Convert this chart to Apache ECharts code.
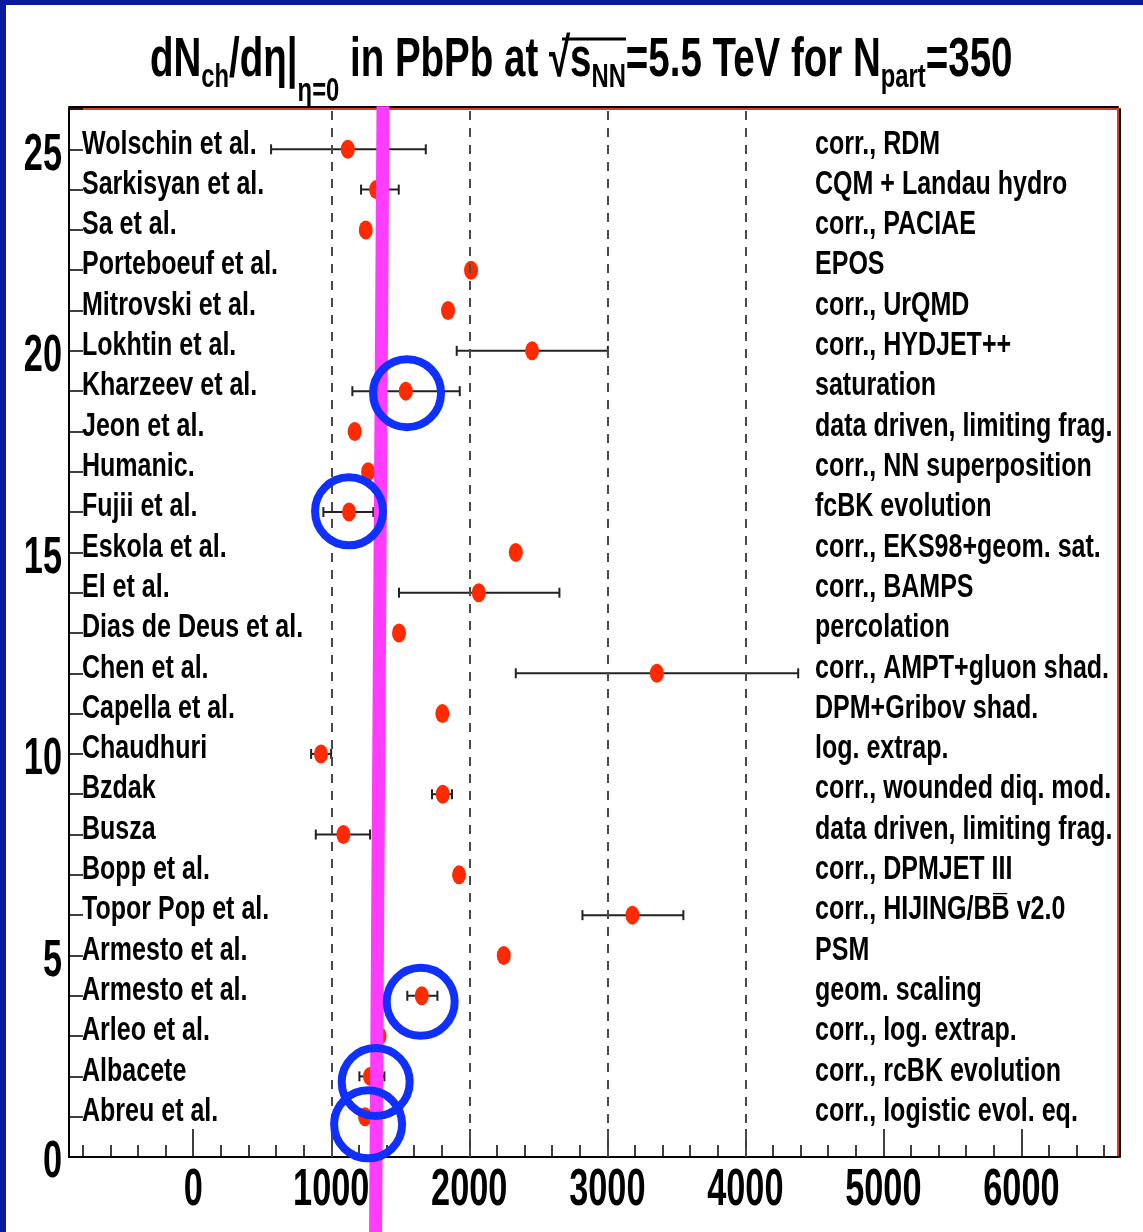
<!DOCTYPE html>
<html>
<head>
<meta charset="utf-8">
<title>dNch/deta predictions PbPb 5.5 TeV</title>
<script src="https://cdn.jsdelivr.net/npm/echarts@6/dist/echarts.min.js"></script>
<style>
  html, body { margin: 0; padding: 0; background: #ffffff; }
  #chart { width: 1143px; height: 1232px; }
</style>
</head>
<body>
<div id="chart"></div>
<script>
// Row index on the y axis (1 = bottom entry)
const rows = [1, 2, 3, 4, 5, 6, 7, 8, 9, 10, 11, 12, 13, 14, 15, 16, 17, 18, 19, 20, 21, 22, 23, 24, 25];

const modelAuthors = [
  'Abreu et al.', 'Albacete', 'Arleo et al.', 'Armesto et al.', 'Armesto et al.',
  'Topor Pop et al.', 'Bopp et al.', 'Busza', 'Bzdak', 'Chaudhuri',
  'Capella et al.', 'Chen et al.', 'Dias de Deus et al.', 'El et al.', 'Eskola et al.',
  'Fujii et al.', 'Humanic.', 'Jeon et al.', 'Kharzeev et al.', 'Lokhtin et al.',
  'Mitrovski et al.', 'Porteboeuf et al.', 'Sa et al.', 'Sarkisyan et al.', 'Wolschin et al.'
];

const modelTypes = [
  'corr., logistic evol. eq.', 'corr., rcBK evolution', 'corr., log. extrap.', 'geom. scaling', 'PSM',
  'corr., HIJING/BB\u0305 v2.0', 'corr., DPMJET III', 'data driven, limiting frag.', 'corr., wounded diq. mod.', 'log. extrap.',
  'DPM+Gribov shad.', 'corr., AMPT+gluon shad.', 'percolation', 'corr., BAMPS', 'corr., EKS98+geom. sat.',
  'fcBK evolution', 'corr., NN superposition', 'data driven, limiting frag.', 'saturation', 'corr., HYDJET++',
  'corr., UrQMD', 'EPOS', 'corr., PACIAE', 'CQM + Landau hydro', 'corr., RDM'
];

// Predicted dNch/deta at eta = 0
const dNdEta = [1245, 1281, 1350, 1656, 2250, 3182, 1926, 1088, 1808, 926,
                1805, 3359, 1491, 2069, 2337, 1129, 1267, 1170, 1540, 2455,
                1846, 2013, 1250, 1325, 1120];

// Lower / upper ends of the quoted ranges (null = no range given)
const rangeLow  = [null, 1204, null, 1551, null, 2820, null, 888, 1730, 854,
                   null, 2337, null, 1491, null, 943, null, null, 1153, 1909,
                   null, null, null, 1216, 564];
const rangeHigh = [null, 1385, null, 1769, null, 3551, null, 1281, 1875, 999,
                   null, 4383, null, 2653, null, 1305, null, null, 1931, 3004,
                   null, null, null, 1489, 1685];

// Vertical reference band drawn across the whole panel
const referenceLine = [[1375, 26.07], [1321, -1.9]];

// Highlighted predictions
const highlighted = [[1549, 18.95], [1129, 16.02], [1648, 3.85], [1322, 1.86], [1267, 0.81]];

const dashedGridValues = [1000, 2000, 3000, 4000];
const xMajorTicks = [0, 1000, 2000, 3000, 4000, 5000, 6000];
const xMinorTicks = [-800, -600, -400, -200, 200, 400, 600, 800, 1200, 1400, 1600, 1800,
                     2200, 2400, 2600, 2800, 3200, 3400, 3600, 3800, 4200, 4400, 4600, 4800,
                     5200, 5400, 5600, 5800, 6200, 6400, 6600];
const yTickLabels = [0, 5, 10, 15, 20, 25];

const FONT = "'Liberation Sans', Arial, Helvetica, sans-serif";
const LABEL_SQUEEZE = 0.747;   // condensed Helvetica look for the row labels
const NUMBER_SQUEEZE = 0.66;   // condensed digits on both axes
const TITLE_SQUEEZE = 0.70;

const pointData = rows.map((r, i) => [dNdEta[i], r]);
const rangeData = [];
rows.forEach((r, i) => {
  if (rangeLow[i] != null) rangeData.push([rangeLow[i], rangeHigh[i], r]);
});

const chart = echarts.init(document.getElementById('chart'), null, { renderer: 'canvas' });

function squeezedText(x, y, text, size, squeeze, align, vAlign) {
  return {
    type: 'text', x: x, y: y, scaleX: squeeze,
    style: {
      text: text, x: 0, y: 0, fill: '#000',
      font: 'bold ' + size + 'px ' + FONT,
      align: align, verticalAlign: vAlign
    }
  };
}

chart.setOption({
  animation: false,
  backgroundColor: '#ffffff',
  grid: {
    left: 69, top: 109, width: 1049, height: 1048,
    containLabel: false, outerBoundsMode: 'none',
    show: true, borderColor: '#e0372c', borderWidth: 2, backgroundColor: '#ffffff'
  },
  xAxis: [
    {
      type: 'value', min: -900, max: 6700, position: 'bottom',
      axisLine: { show: true, onZero: false, lineStyle: { color: '#000', width: 2 } },
      axisTick: { show: true, inside: true, length: 28, customValues: xMajorTicks, lineStyle: { color: '#000', width: 1.5 } },
      axisLabel: { show: false },
      splitLine: { show: false }
    },
    {
      type: 'value', min: -900, max: 6700, position: 'bottom',
      axisLine: { show: false },
      axisTick: { show: true, inside: true, length: 12, customValues: xMinorTicks, lineStyle: { color: '#000', width: 1.5 } },
      axisLabel: { show: false },
      splitLine: { show: false }
    },
    {
      type: 'value', min: -900, max: 6700, position: 'top', offset: 2,
      axisLine: { show: true, onZero: false, lineStyle: { color: '#000', width: 2 } },
      axisTick: { show: false }, axisLabel: { show: false }, splitLine: { show: false }
    }
  ],
  yAxis: [
    {
      type: 'value', min: 0, max: 26, interval: 1, position: 'left',
      axisLine: { show: true, onZero: false, lineStyle: { color: '#000', width: 2 } },
      axisTick: { show: true, inside: true, length: 14, lineStyle: { color: '#000', width: 1.5 } },
      axisLabel: { show: false },
      splitLine: { show: false }
    },
    {
      type: 'value', min: 0, max: 26, position: 'right', offset: 2,
      axisLine: { show: true, onZero: false, lineStyle: { color: '#000', width: 2 } },
      axisTick: { show: false }, axisLabel: { show: false }, splitLine: { show: false }
    }
  ],
  series: [
    // dashed guide lines
    {
      type: 'line', data: [], xAxisIndex: 0, yAxisIndex: 0, silent: true, z: 1,
      markLine: {
        silent: true, symbol: 'none', label: { show: false },
        lineStyle: { color: '#4a4a4a', width: 2, type: [9, 8] },
        data: dashedGridValues.map(v => ({ xAxis: v }))
      }
    },
    // quoted ranges
    {
      type: 'custom', xAxisIndex: 0, yAxisIndex: 0, z: 2, clip: false,
      data: rangeData,
      encode: { x: [0, 1], y: 2 },
      renderItem: function (params, api) {
        const y = api.value(2);
        const a = api.coord([api.value(0), y]);
        const b = api.coord([api.value(1), y]);
        const cap = 5;
        const st = { stroke: '#222', lineWidth: 2 };
        return {
          type: 'group',
          children: [
            { type: 'line', shape: { x1: a[0], y1: a[1], x2: b[0], y2: b[1] }, style: st },
            { type: 'line', shape: { x1: a[0], y1: a[1] - cap, x2: a[0], y2: a[1] + cap }, style: st },
            { type: 'line', shape: { x1: b[0], y1: b[1] - cap, x2: b[0], y2: b[1] + cap }, style: st }
          ]
        };
      }
    },
    // central values
    {
      type: 'scatter', xAxisIndex: 0, yAxisIndex: 0, z: 3,
      data: pointData,
      symbol: 'circle', symbolSize: [14, 19],
      itemStyle: { color: '#ff2a00', opacity: 1 }
    },
    // author names (left) and model descriptions (right) for each row
    {
      type: 'custom', xAxisIndex: 0, yAxisIndex: 0, z: 4, clip: false, silent: true,
      data: rows.map(r => [r]),
      encode: { y: 0 },
      renderItem: function (params, api) {
        const i = params.dataIndex;
        const cs = params.coordSys;
        const y = api.coord([0, api.value(0)])[1] - 5;
        return {
          type: 'group',
          children: [
            squeezedText(cs.x + 13, y, modelAuthors[i], 33.5, LABEL_SQUEEZE, 'left', 'middle'),
            squeezedText(cs.x + 746, y, modelTypes[i], 33.5, LABEL_SQUEEZE, 'left', 'middle')
          ]
        };
      }
    },
    // x axis numbers
    {
      type: 'custom', xAxisIndex: 0, yAxisIndex: 0, z: 4, clip: false, silent: true,
      data: xMajorTicks.map(v => [v]),
      encode: { x: 0 },
      renderItem: function (params, api) {
        const p = api.coord([api.value(0), 0]);
        return squeezedText(p[0], p[1] + 34, String(api.value(0)), 52, NUMBER_SQUEEZE, 'center', 'middle');
      }
    },
    // y axis numbers
    {
      type: 'custom', xAxisIndex: 0, yAxisIndex: 0, z: 4, clip: false, silent: true,
      data: yTickLabels.map(v => [v]),
      encode: { y: 0 },
      renderItem: function (params, api) {
        const y = api.coord([0, api.value(0)])[1];
        return squeezedText(params.coordSys.x - 7, y + 6, String(api.value(0)), 52, NUMBER_SQUEEZE, 'right', 'middle');
      }
    },
    // reference band
    {
      type: 'line', xAxisIndex: 0, yAxisIndex: 0, z: 5, clip: false,
      data: referenceLine, symbol: 'none', silent: true,
      lineStyle: { color: '#ff3cff', width: 13, opacity: 1 }
    },
    // highlighted predictions
    {
      type: 'scatter', xAxisIndex: 0, yAxisIndex: 0, z: 6, clip: false,
      data: highlighted,
      symbol: 'circle', symbolSize: 68,
      itemStyle: { color: 'rgba(0,0,0,0)', borderColor: '#1030ff', borderWidth: 8, opacity: 1 }
    }
  ],
  graphic: [
    {
      type: 'text', x: 150, y: 33, scaleX: TITLE_SQUEEZE, z: 50,
      style: {
        text: '{m|dN}{s|ch}{m|/d\u03b7|}{s2|\u03b7=0}{m| in PbPb at \u221as}{s|NN}{m|=5.5 TeV for N}{s|part}{m|=350}',
        align: 'left', verticalAlign: 'top',
        rich: {
          m:  { fontFamily: FONT, fontWeight: 'bold', fontSize: 55, lineHeight: 55, fill: '#000', verticalAlign: 'top' },
          s:  { fontFamily: FONT, fontWeight: 'bold', fontSize: 34, lineHeight: 34, fill: '#000', verticalAlign: 'top', padding: [28, 0, 0, 0] },
          s2: { fontFamily: FONT, fontWeight: 'bold', fontSize: 34, lineHeight: 34, fill: '#000', verticalAlign: 'top', padding: [42, 0, 0, 0] }
        }
      }
    },
    // bar over the radicand of the square root in the title
    { type: 'line', z: 50, shape: { x1: 562, y1: 39, x2: 626, y2: 39 }, style: { stroke: '#000', lineWidth: 3 } },
    { type: 'rect', z: 100, shape: { x: 0, y: 0, width: 1143, height: 5 }, style: { fill: '#0b1a9c' } },
    { type: 'rect', z: 100, shape: { x: 0, y: 0, width: 6, height: 1232 }, style: { fill: '#0b1a9c' } }
  ]
});
</script>
</body>
</html>
